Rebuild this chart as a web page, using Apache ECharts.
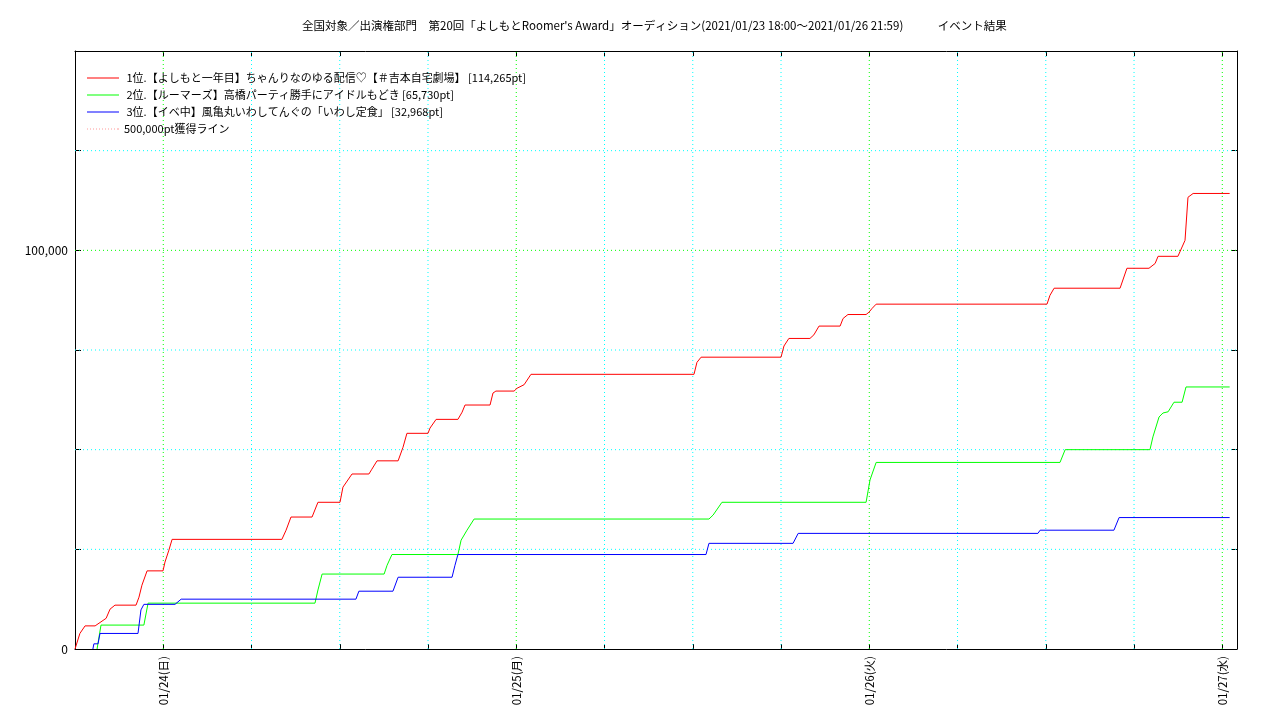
<!DOCTYPE html>
<html>
<head>
<meta charset="utf-8">
<script src="https://cdn.jsdelivr.net/npm/echarts@6/dist/echarts.min.js"></script>
<style>
html,body{margin:0;padding:0;background:#fff;}
#chart{width:1280px;height:720px;}
</style>
</head>
<body>
<div id="chart"></div>
<script>
const titleText = '全国対象／出演権部門　第20回「よしもとRoomer\'s Award」オーディション(2021/01/23 18:00～2021/01/26 21:59)　　　イベント結果';

const seriesNames = [
  ' 1位.【よしもと一年目】ちゃんりなのゆる配信♡【＃吉本自宅劇場】 [114,265pt]',
  ' 2位.【ルーマーズ】高橋パーティ勝手にアイドルもどき [65,730pt]',
  ' 3位.【イベ中】風亀丸いわしてんぐの「いわし定食」 [32,968pt]',
  '500,000pt獲得ライン'
];

const dayLabels = ['01/24(日)', '01/25(月)', '01/26(火)', '01/27(水)'];
const yTickLabels = ['0', '100,000'];

const redPoints = [
  ['01/23 18:00', 0], ['01/23 18:20', 3900], ['01/23 18:41', 5800], ['01/23 19:22', 5800],
  ['01/23 20:07', 7700], ['01/23 20:23', 10000], ['01/23 20:43', 11000], ['01/23 22:09', 11000],
  ['01/23 22:21', 13000], ['01/23 22:33', 16000], ['01/23 22:54', 19600], ['01/23 23:59', 19600],
  ['01/24 00:07', 21800], ['01/24 00:23', 24800], ['01/24 00:36', 27500], ['01/24 08:04', 27500],
  ['01/24 08:21', 29800], ['01/24 08:41', 33100], ['01/24 10:07', 33100], ['01/24 10:31', 36800],
  ['01/24 12:01', 36800], ['01/24 12:13', 40600], ['01/24 12:50', 43900], ['01/24 13:59', 43900],
  ['01/24 14:11', 45100], ['01/24 14:32', 47200], ['01/24 15:58', 47200], ['01/24 16:18', 50600],
  ['01/24 16:34', 54100], ['01/24 18:00', 54100], ['01/24 18:08', 55400], ['01/24 18:33', 57600],
  ['01/24 20:02', 57600], ['01/24 20:19', 59400], ['01/24 20:31', 61200], ['01/24 22:13', 61200],
  ['01/24 22:25', 64200], ['01/24 22:37', 64700], ['01/24 23:51', 64700], ['01/25 00:03', 65400],
  ['01/25 00:32', 66300], ['01/25 01:00', 68900], ['01/25 12:05', 68900], ['01/25 12:17', 71900],
  ['01/25 12:34', 73200], ['01/25 18:00', 73200], ['01/25 18:12', 76000], ['01/25 18:32', 77900],
  ['01/25 19:58', 77900], ['01/25 20:14', 78800], ['01/25 20:35', 81000], ['01/25 22:01', 81000],
  ['01/25 22:13', 82900], ['01/25 22:33', 83900], ['01/25 23:47', 83900], ['01/25 23:59', 84500],
  ['01/26 00:11', 85400], ['01/26 00:28', 86500], ['01/26 12:05', 86500], ['01/26 12:17', 88700],
  ['01/26 12:34', 90500], ['01/26 17:03', 90500], ['01/26 17:31', 95500], ['01/26 19:01', 95500],
  ['01/26 19:26', 96700], ['01/26 19:38', 98500], ['01/26 20:59', 98500], ['01/26 21:28', 102500],
  ['01/26 21:40', 113300], ['01/26 22:01', 114265], ['01/27 00:30', 114265]
];

const greenPoints = [
  ['01/23 19:30', 0], ['01/23 19:46', 6000], ['01/23 22:41', 6000], ['01/23 22:58', 11500],
  ['01/24 10:19', 11500], ['01/24 10:31', 14800], ['01/24 10:48', 18800], ['01/24 15:01', 18800],
  ['01/24 15:13', 21000], ['01/24 15:33', 23700], ['01/24 20:02', 23700], ['01/24 20:15', 27300],
  ['01/24 20:39', 29800], ['01/24 21:08', 32600], ['01/25 13:06', 32600], ['01/25 13:23', 33600],
  ['01/25 13:59', 36800], ['01/25 23:47', 36800], ['01/26 00:03', 42400], ['01/26 00:28', 46800],
  ['01/26 12:58', 46800], ['01/26 13:19', 50000], ['01/26 19:05', 50000], ['01/26 19:17', 53200],
  ['01/26 19:42', 58200], ['01/26 19:58', 59200], ['01/26 20:19', 59500], ['01/26 20:43', 61900],
  ['01/26 21:16', 61900], ['01/26 21:32', 65730], ['01/27 00:30', 65730]
];

const bluePoints = [
  ['01/23 19:13', 0], ['01/23 19:17', 1300], ['01/23 19:34', 1300], ['01/23 19:42', 3900],
  ['01/23 22:17', 3900], ['01/23 22:29', 9800], ['01/23 22:41', 11200], ['01/24 00:48', 11200],
  ['01/24 01:13', 12500], ['01/24 13:06', 12500], ['01/24 13:18', 14500], ['01/24 15:37', 14500],
  ['01/24 15:58', 18000], ['01/24 19:38', 18000], ['01/24 19:50', 21000], ['01/24 20:02', 23700],
  ['01/25 12:54', 23700], ['01/25 13:06', 26500], ['01/25 18:49', 26500], ['01/25 19:10', 29000],
  ['01/26 11:28', 29000], ['01/26 11:37', 29800], ['01/26 16:38', 29800], ['01/26 16:59', 32968],
  ['01/27 00:30', 32968]
];

const targetLinePoints = [['01/23 18:00', 500000], ['01/27 01:00', 500000]];

// hours measured from 2021/01/24 00:00
function toHours(s) {
  const m = s.match(/(\d+)\/(\d+) (\d+):(\d+)/);
  const day = parseInt(m[2], 10), h = parseInt(m[3], 10), mi = parseInt(m[4], 10);
  return (day - 24) * 24 + h + mi / 60;
}
function conv(arr) { return arr.map(p => [toHours(p[0]), p[1]]); }

const FONT = '"Noto Sans CJK JP", "Noto Sans", sans-serif';
const CYAN = '#00ffff';
const GREEN = '#00ff00';
const PINK = '#ff9a9a';
const DOTS = [1, 3];

const X_MIN = -6, X_MAX = 73, X_STEP = 6, DAY = 24;
const Y_MAX = 150000, Y_STEP = 25000, Y_MAJOR = 100000;

// grid line list derived from the axis steps: [direction(0=vertical,1=horizontal), value, isMajor]
const gridLines = [];
for (let h = X_MIN + X_STEP; h < X_MAX; h += X_STEP) gridLines.push([0, h, h % DAY === 0 ? 1 : 0]);
for (let v = Y_STEP; v < Y_MAX; v += Y_STEP) gridLines.push([1, v, v % Y_MAJOR === 0 ? 1 : 0]);

const LINE_ICON = 'path://M0 0H32V1H0Z';
let dotPath = 'path://';
for (let i = 0; i <= 30; i += 3) dotPath += 'M' + i + ' 0h1v1h-1z ';
dotPath += 'M31 0h1v1h-1z';

const chart = echarts.init(document.getElementById('chart'), null, {renderer: 'canvas'});

const blackLine = {show: true, onZero: false, lineStyle: {color: '#000', width: 1}};

function renderGridLine(params, api) {
  const cs = params.coordSys;
  const dir = api.value(0), v = api.value(1), major = api.value(2);
  const stroke = major ? GREEN : CYAN;
  let shape;
  if (dir === 0) {
    const x = api.coord([v, 0])[0];
    shape = {x1: x, y1: cs.y + cs.height, x2: x, y2: cs.y};
  } else {
    const y = api.coord([0, v])[1];
    shape = {x1: cs.x, y1: y, x2: cs.x + cs.width, y2: y};
  }
  return {type: 'line', shape: shape, silent: true,
          style: {stroke: stroke, lineWidth: 1, lineDash: DOTS, fill: null}};
}

chart.setOption({
  animation: false,
  backgroundColor: '#ffffff',
  textStyle: {fontFamily: FONT},
  title: {
    text: titleText,
    left: 302, top: 20, padding: 0,
    textStyle: {fontSize: 11.5, fontWeight: 'normal', color: '#000', fontFamily: FONT}
  },
  grid: {left: 75, right: 43, top: 51, bottom: 71, containLabel: false},
  legend: {
    orient: 'vertical', left: 87, top: 71, padding: 0,
    itemWidth: 32, itemHeight: 1, itemGap: 3,
    textStyle: {fontSize: 11, color: '#000', fontFamily: FONT, lineHeight: 14},
    data: [
      {name: seriesNames[0], icon: LINE_ICON, itemStyle: {color: '#ff0000'}},
      {name: seriesNames[1], icon: LINE_ICON, itemStyle: {color: '#00ff00'}},
      {name: seriesNames[2], icon: LINE_ICON, itemStyle: {color: '#0000ff'}},
      {name: seriesNames[3], icon: dotPath, itemStyle: {color: PINK}}
    ]
  },
  xAxis: [
    {
      type: 'value', min: X_MIN, max: X_MAX, interval: X_STEP, position: 'bottom',
      axisLine: blackLine,
      axisTick: {show: true, inside: true, length: 5, lineStyle: {color: '#000'}},
      axisLabel: {
        show: true, rotate: 90, margin: 7, fontSize: 11.5, color: '#000', fontFamily: FONT,
        formatter: v => (v >= 0 && v % DAY === 0) ? dayLabels[v / DAY] : ''
      },
      splitLine: {show: false}
    },
    {
      type: 'value', min: X_MIN, max: X_MAX, interval: X_STEP, position: 'top',
      axisLine: blackLine,
      axisTick: {show: true, inside: true, length: 5, lineStyle: {color: '#000'}},
      axisLabel: {show: false},
      splitLine: {show: false}
    }
  ],
  yAxis: [
    {
      type: 'value', min: 0, max: Y_MAX, interval: Y_STEP, position: 'left',
      axisLine: blackLine,
      axisTick: {show: true, inside: true, length: 6, lineStyle: {color: '#000'}},
      axisLabel: {
        show: true, margin: 7, fontSize: 12, color: '#000', fontFamily: FONT,
        formatter: v => v === 0 ? yTickLabels[0] : (v === Y_MAJOR ? yTickLabels[1] : '')
      },
      splitLine: {show: false}
    },
    {
      type: 'value', min: 0, max: Y_MAX, interval: Y_STEP, position: 'right',
      axisLine: blackLine,
      axisTick: {show: true, inside: true, length: 6, lineStyle: {color: '#000'}},
      axisLabel: {show: false},
      splitLine: {show: false}
    }
  ],
  series: [
    {type: 'custom', name: 'grid', silent: true, z: 1, clip: false,
     renderItem: renderGridLine, data: gridLines, encode: {x: -1, y: -1}},
    {name: seriesNames[0], type: 'line', data: conv(redPoints), symbol: 'none', color: '#ff0000', z: 3,
     lineStyle: {color: '#ff0000', width: 1}, clip: true},
    {name: seriesNames[1], type: 'line', data: conv(greenPoints), symbol: 'none', color: '#00ff00', z: 3,
     lineStyle: {color: '#00ff00', width: 1}, clip: true},
    {name: seriesNames[2], type: 'line', data: conv(bluePoints), symbol: 'none', color: '#0000ff', z: 3,
     lineStyle: {color: '#0000ff', width: 1}, clip: true},
    {name: seriesNames[3], type: 'line', data: conv(targetLinePoints), symbol: 'none', color: PINK, z: 2,
     lineStyle: {color: PINK, width: 1, type: DOTS}, clip: true}
  ]
});
</script>
</body>
</html>
